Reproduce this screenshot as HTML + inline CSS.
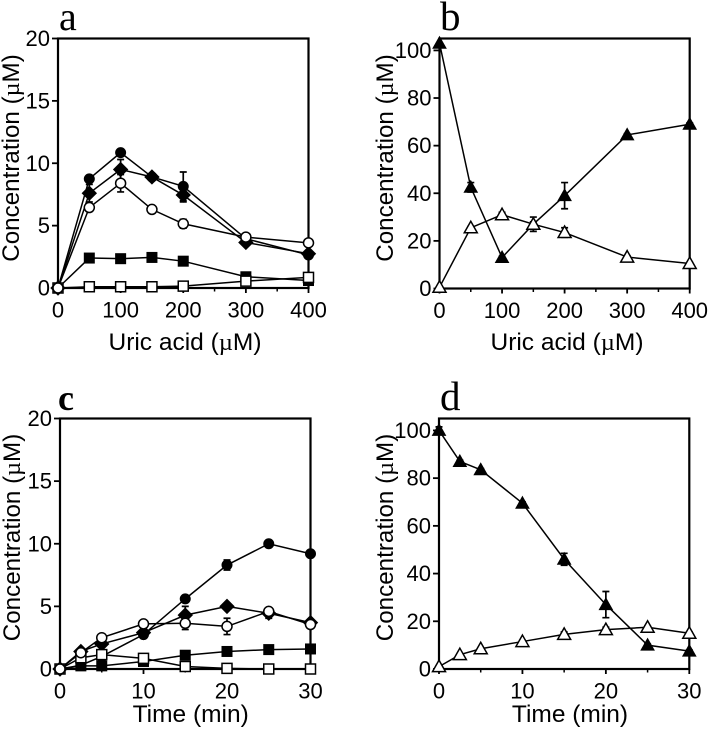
<!DOCTYPE html>
<html>
<head>
<meta charset="utf-8">
<style>
html,body{margin:0;padding:0;background:#fff;}
svg{display:block;filter:blur(0.35px);}
text{font-family:"Liberation Sans",sans-serif;fill:#000;}
.mu{font-family:"Liberation Serif",serif;}
.letter{font-family:"Liberation Serif",serif;}
</style>
</head>
<body>
<svg id="figure" xmlns="http://www.w3.org/2000/svg" width="709" height="729" viewBox="0 0 709 729"></svg>
<script>
// Panel a: products vs uric acid dose
const aDoses = [0, 50, 100, 150, 200, 300, 400];
const aFilledSquare = [0, 2.4, 2.35, 2.45, 2.15, 0.9, 0.6];
const aFilledCircle = [0, 8.75, 10.85, 8.9, 8.15, 3.95, 2.65];
const aDiamond = [0, 7.6, 9.5, 8.9, 7.45, 3.65, 2.75];
const aOpenSquare = [0, 0.1, 0.1, 0.1, 0.15, 0.55, 0.85];
const aOpenCircle = [0, 6.45, 8.4, 6.3, 5.15, 4.08, 3.62];
const aErrFilledCircle = [0, 0.2, 0.2, 0.2, 1.15, 0.1, 0.1];
const aErrDiamond = [0, 0.7, 0.8, 0.2, 0.55, 0.1, 0.1];
const aErrOpenCircle = [0, 0.3, 0.7, 0.1, 0.35, 0.1, 0.1];
// Panel b: urate consumption vs dose
const bDoses = [0, 50, 100, 150, 200, 300, 400];
const bFilledTriangle = [103, 42.5, 13, 27, 39, 64.5, 69];
const bOpenTriangle = [0.5, 25.5, 31, 27, 23.5, 13.2, 10.5];
const bErrFilledTriangle = [0, 2, 0.5, 1, 5.5, 0.5, 0.5];
const bErrOpenTriangle = [0, 0.5, 1, 3, 2, 0.5, 0.5];
// Panel c: products vs time
const cTimes = [0, 2.5, 5, 10, 15, 20, 25, 30];
const cFilledSquare = [0, 0.25, 0.25, 0.6, 1.1, 1.4, 1.55, 1.6];
const cFilledCircle = [0, 0.3, 1.0, 2.75, 5.6, 8.3, 10, 9.2];
const cDiamond = [0, 1.4, 2.0, 2.9, 4.3, 5.0, 4.45, 3.7];
const cOpenSquare = [0, 0.9, 1.15, 0.85, 0.2, 0.05, 0, 0];
const cOpenCircle = [0, 1.3, 2.5, 3.6, 3.65, 3.4, 4.6, 3.55];
const cErrFilledCircle = [0, 0.1, 0.1, 0.1, 0.1, 0.4, 0.1, 0.1];
const cErrDiamond = [0, 0.1, 0.1, 0.1, 0.7, 0.1, 0.4, 0.1];
const cErrOpenCircle = [0, 0.1, 0.1, 0.1, 0.5, 0.65, 0.2, 0.1];
// Panel d: urate consumption vs time
const dTimes = [0, 2.5, 5, 10, 15, 20, 25, 30];
const dFilledTriangle = [100, 87, 83.5, 69.5, 46, 27, 10, 7.5];
const dOpenTriangle = [1, 6, 8.5, 11.5, 14.5, 16.5, 17.5, 15];
const dErrFilledTriangle = [1.5, 0.5, 0.5, 0.5, 2.5, 5.5, 0.5, 0.5];
const dErrOpenTriangle = [0, 0, 0, 0.5, 1, 1, 0.5, 0.5];
// Tick labels
const doseTicks = [0, 100, 200, 300, 400];
const doseMinorTicks = [50, 150, 250, 350];
const timeTicks = [0, 10, 20, 30];
const timeMinorTicks = [5, 15, 25];
const productTicks = [0, 5, 10, 15, 20];
const urateTicks = [0, 20, 40, 60, 80, 100];

const NS = 'http://www.w3.org/2000/svg';
const root = document.getElementById('figure');

function node(parent, tag, attrs) {
  const el = document.createElementNS(NS, tag);
  for (const k in attrs) el.setAttribute(k, attrs[k]);
  parent.appendChild(el);
  return el;
}

function drawMarker(g, kind, px, py, seriesName) {
  const dark = kind.indexOf('filled') === 0;
  const style = { fill: dark ? '#000' : '#fff', stroke: '#000', 'stroke-width': dark ? 1 : 1.5 };
  let el;
  if (kind.indexOf('circle') > 0) {
    el = node(g, 'circle', Object.assign({ cx: px, cy: py, r: 5 }, style));
  } else if (kind.indexOf('square') > 0) {
    el = node(g, 'rect', Object.assign({ x: px - 5, y: py - 5, width: 10, height: 10 }, style));
  } else if (kind.indexOf('diamond') > 0) {
    el = node(g, 'polygon', Object.assign({ points: [px, py - 7, px + 7, py, px, py + 7, px - 7, py].join(' ') }, style));
  } else {
    el = node(g, 'polygon', Object.assign({ points: [px, py - 6.5, px + 6.5, py + 5, px - 6.5, py + 5].join(' ') }, style));
  }
  
  
}

function drawSeries(g, xs, ys, errs, kind, seriesName, xScale, yScale) {
  const pts = xs.map((v, i) => xScale(v) + ',' + yScale(ys[i])).join(' ');
  const line = node(g, 'polyline', { points: pts, fill: 'none', stroke: '#000', 'stroke-width': 1.5 });
  
  
  if (errs) {
    xs.forEach((v, i) => {
      const px = xScale(v);
      const top = yScale(ys[i] + errs[i]);
      const bot = yScale(ys[i] - errs[i]);
      const bar = node(g, 'path', {
        d: 'M' + (px - 3.5) + ' ' + top + 'H' + (px + 3.5) + 'M' + px + ' ' + top + 'V' + bot + 'M' + (px - 3.5) + ' ' + bot + 'H' + (px + 3.5),
        fill: 'none', stroke: '#000', 'stroke-width': 1.7
      });
      
      
    });
  }
}

function makePanel(cfg) {
  const g = node(root, 'g', {});
  
  
  const xScale = v => cfg.left + (v / cfg.xMax) * (cfg.right - cfg.left);
  const yScale = v => cfg.bottom - (v / cfg.yMax) * (cfg.bottom - cfg.top);

  const frame = node(g, 'rect', { x: cfg.left, y: cfg.top, width: cfg.right - cfg.left, height: cfg.bottom - cfg.top, fill: 'none', stroke: '#000', 'stroke-width': 2.2 });
  
  

  cfg.xTicks.forEach(v => {
    const t = node(g, 'line', { x1: xScale(v), x2: xScale(v), y1: cfg.bottom, y2: cfg.bottom + 5, stroke: '#000', 'stroke-width': 1.8 });
    
    
    const l = node(g, 'text', { x: xScale(v), y: cfg.bottom + 29.5, 'text-anchor': 'middle', 'font-size': 22 });
    l.textContent = v;
    
    
  });
  cfg.xMinor.forEach(v => {
    const t = node(g, 'line', { x1: xScale(v), x2: xScale(v), y1: cfg.bottom, y2: cfg.bottom + 3.5, stroke: '#000', 'stroke-width': 1.5 });
    
    
  });
  cfg.yTicks.forEach(v => {
    const t = node(g, 'line', { x1: cfg.left - 6, x2: cfg.left, y1: yScale(v), y2: yScale(v), stroke: '#000', 'stroke-width': 1.8 });
    
    
    const l = node(g, 'text', { x: cfg.left - 8, y: yScale(v) + 7.5, 'text-anchor': 'end', 'font-size': 22 });
    l.textContent = v;
    
    
  });

  const xTitle = node(g, 'text', { x: cfg.xTitleX, y: cfg.xTitleY, 'text-anchor': 'middle', 'font-size': 24.5 });
  xTitle.textContent = cfg.xLabel + ' ';
  
  
  if (cfg.xMicro) {
    xTitle.textContent = cfg.xLabel + ' (';
    const mu = node(xTitle, 'tspan', { class: 'mu' });
    mu.textContent = 'µ';
    const rest = node(xTitle, 'tspan', {});
    rest.textContent = 'M)';
  }

  const yTitle = node(g, 'text', { x: 0, y: 0, 'text-anchor': 'middle', 'font-size': 24.2, transform: 'translate(' + cfg.yTitleX + ' ' + cfg.yTitleY + ') rotate(-90)' });
  yTitle.textContent = 'Concentration (';
  const yMu = node(yTitle, 'tspan', { class: 'mu' });
  yMu.textContent = 'µ';
  const yRest = node(yTitle, 'tspan', {});
  yRest.textContent = 'M)';
  
  

  const letter = node(g, 'text', { x: cfg.letterX, y: cfg.letterY, class: 'letter', 'font-size': cfg.letterSize, 'font-weight': cfg.letterWeight });
  letter.textContent = cfg.id;
  
  

  cfg.series.forEach(s => drawSeries(g, cfg.xs, s.ys, s.errs, s.kind, s.name, xScale, yScale));
  cfg.series.forEach(s => cfg.xs.forEach((v, i) => drawMarker(g, s.kind, xScale(v), yScale(s.ys[i]), s.name)));
}

makePanel({
  id: 'a', left: 58, right: 308.5, top: 38.5, bottom: 288, xMax: 400, yMax: 20,
  xTicks: doseTicks, xMinor: doseMinorTicks, yTicks: productTicks,
  xs: aDoses, xLabel: 'Uric acid', xMicro: true,
  xTitleX: 185, xTitleY: 350, yTitleX: 19, yTitleY: 158, letterX: 59, letterY: 30, letterSize: 40, letterWeight: 'normal',
  series: [
    { name: 'filled-square-series', kind: 'filled-square', ys: aFilledSquare },
    { name: 'filled-circle-series', kind: 'filled-circle', ys: aFilledCircle, errs: aErrFilledCircle },
    { name: 'diamond-series', kind: 'filled-diamond', ys: aDiamond, errs: aErrDiamond },
    { name: 'open-square-series', kind: 'open-square', ys: aOpenSquare },
    { name: 'open-circle-series', kind: 'open-circle', ys: aOpenCircle, errs: aErrOpenCircle }
  ]
});
makePanel({
  id: 'b', left: 439.5, right: 689.7, top: 38.5, bottom: 288.5, xMax: 400, yMax: 105,
  xTicks: doseTicks, xMinor: doseMinorTicks, yTicks: urateTicks,
  xs: bDoses, xLabel: 'Uric acid', xMicro: true,
  xTitleX: 567, xTitleY: 350, yTitleX: 393, yTitleY: 158, letterX: 440, letterY: 30, letterSize: 41, letterWeight: 'normal',
  series: [
    { name: 'filled-triangle-series', kind: 'filled-triangle', ys: bFilledTriangle, errs: bErrFilledTriangle },
    { name: 'open-triangle-series', kind: 'open-triangle', ys: bOpenTriangle, errs: bErrOpenTriangle }
  ]
});
makePanel({
  id: 'c', left: 60, right: 310.5, top: 418.5, bottom: 669, xMax: 30, yMax: 20,
  xTicks: timeTicks, xMinor: timeMinorTicks, yTicks: productTicks,
  xs: cTimes, xLabel: 'Time (min)', xMicro: false,
  xTitleX: 190.7, xTitleY: 722, yTitleX: 20, yTitleY: 537.5, letterX: 58, letterY: 410, letterSize: 36, letterWeight: 'bold',
  series: [
    { name: 'filled-square-series', kind: 'filled-square', ys: cFilledSquare },
    { name: 'filled-circle-series', kind: 'filled-circle', ys: cFilledCircle, errs: cErrFilledCircle },
    { name: 'diamond-series', kind: 'filled-diamond', ys: cDiamond, errs: cErrDiamond },
    { name: 'open-square-series', kind: 'open-square', ys: cOpenSquare },
    { name: 'open-circle-series', kind: 'open-circle', ys: cOpenCircle, errs: cErrOpenCircle }
  ]
});
makePanel({
  id: 'd', left: 439, right: 689.3, top: 418.5, bottom: 669, xMax: 30, yMax: 105,
  xTicks: timeTicks, xMinor: timeMinorTicks, yTicks: urateTicks,
  xs: dTimes, xLabel: 'Time (min)', xMicro: false,
  xTitleX: 570, xTitleY: 722, yTitleX: 393, yTitleY: 537.5, letterX: 440, letterY: 410, letterSize: 41, letterWeight: 'normal',
  series: [
    { name: 'filled-triangle-series', kind: 'filled-triangle', ys: dFilledTriangle, errs: dErrFilledTriangle },
    { name: 'open-triangle-series', kind: 'open-triangle', ys: dOpenTriangle, errs: dErrOpenTriangle }
  ]
});
</script>
</body>
</html>
